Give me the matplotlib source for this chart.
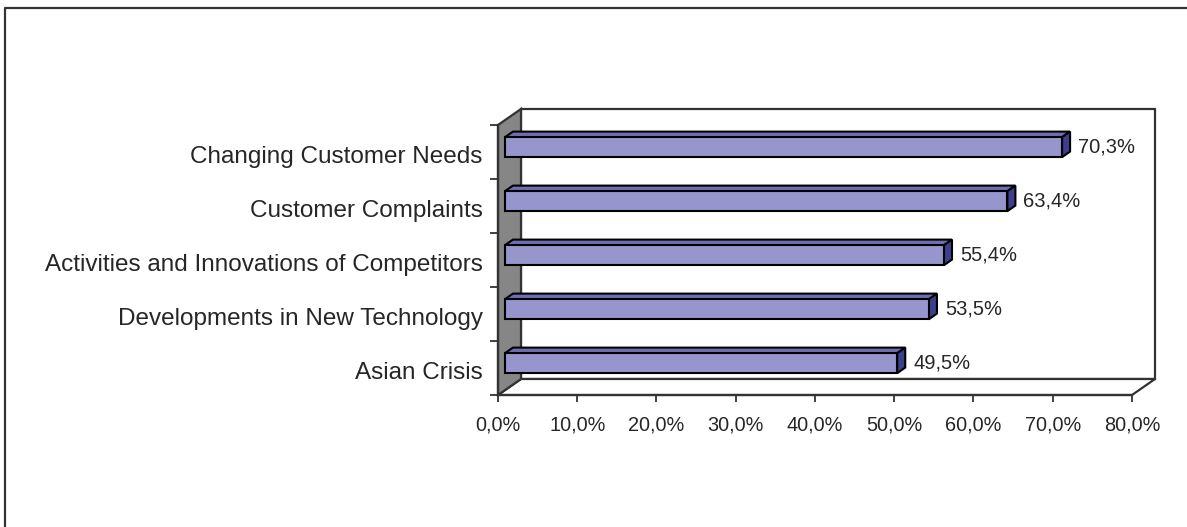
import matplotlib.pyplot as plt
from matplotlib.patches import Polygon
from matplotlib.lines import Line2D
import numpy as np

categories = ['Asian Crisis', 'Developments in New Technology',
              'Activities and Innovations of Competitors',
              'Customer Complaints', 'Changing Customer Needs']
values = [49.5, 53.5, 55.4, 63.4, 70.3]
value_labels = ['49,5%', '53,5%', '55,4%', '63,4%', '70,3%']
xticks = [0, 10, 20, 30, 40, 50, 60, 70, 80]
xtick_labels = ['0,0%', '10,0%', '20,0%', '30,0%', '40,0%', '50,0%', '60,0%', '70,0%', '80,0%']

plt.rcParams['font.family'] = ['Liberation Sans', 'DejaVu Sans']

W, H = 1187, 527
fig = plt.figure(figsize=(W / 100, H / 100), dpi=100)

# front plane of the plot area in pixels
left, right, top, bottom = 498, 1132, 125, 395
ax = fig.add_axes([left / W, (H - bottom) / H, (right - left) / W, (bottom - top) / H])
n = len(categories)
ax.set_xlim(0, 80)
ax.set_ylim(-0.5, n - 0.5)
ax.set_facecolor('none')

# depth of the 3d box, pixels -> data units
xs = (right - left) / 80
ys = (bottom - top) / n
dx, dy = 23 / xs, 16 / ys
edge = '#333333'
txt = '#262626'

# back wall, floor, side wall
back = Polygon([(dx, -0.5 + dy), (80 + dx, -0.5 + dy), (80 + dx, n - 0.5 + dy), (dx, n - 0.5 + dy)],
               closed=True, facecolor='white', edgecolor=edge, lw=1.6, clip_on=False, zorder=1)
floor = Polygon([(0, -0.5), (80, -0.5), (80 + dx, -0.5 + dy), (dx, -0.5 + dy)],
                closed=True, facecolor='white', edgecolor=edge, lw=1.6, clip_on=False, zorder=1)
wall = Polygon([(0, -0.5), (dx, -0.5 + dy), (dx, n - 0.5 + dy), (0, n - 0.5)],
               closed=True, facecolor='#868686', edgecolor=edge, lw=1.6, clip_on=False, zorder=2)
for p in (back, floor, wall):
    ax.add_patch(p)

# bars
y = np.arange(n)
f1, f2 = 0.3, 0.65
bh = 0.37
ax.barh(y + f1 * dy, values, left=f1 * dx, height=bh, color='#9696CC',
        edgecolor='black', lw=1.5, zorder=4)
for i, v in enumerate(values):
    yt = i + f1 * dy + bh / 2
    yb = i + f1 * dy - bh / 2
    ddx, ddy = (f2 - f1) * dx, (f2 - f1) * dy
    topf = Polygon([(f1 * dx, yt), (v + f1 * dx, yt), (v + f1 * dx + ddx, yt + ddy), (f1 * dx + ddx, yt + ddy)],
                   closed=True, facecolor='#6E6EB4', edgecolor='black', lw=1.5, clip_on=False, zorder=3)
    side = Polygon([(v + f1 * dx, yb), (v + f1 * dx + ddx, yb + ddy), (v + f1 * dx + ddx, yt + ddy), (v + f1 * dx, yt)],
                   closed=True, facecolor='#3E3E8E', edgecolor='black', lw=1.5, clip_on=False, zorder=3)
    ax.add_patch(topf)
    ax.add_patch(side)
    ax.text(v + f2 * dx + 1.0, i + f1 * dy, value_labels[i], ha='left', va='center',
            fontsize=14.5, color=txt, zorder=5)

# axes
for s in ('top', 'right'):
    ax.spines[s].set_visible(False)
for s in ('left', 'bottom'):
    ax.spines[s].set_color(edge)
    ax.spines[s].set_linewidth(1.6)
    ax.spines[s].set_zorder(6)

ax.set_xticks(xticks)
ax.set_xticklabels(xtick_labels, fontsize=14.3, color=txt)
ax.tick_params(axis='x', length=5, width=1.3, color=edge, pad=10)

ax.set_yticks(np.arange(n + 1) - 0.5)
ax.set_yticklabels([])
ax.tick_params(axis='y', which='major', length=6, width=1.3, color=edge)
ax.set_yticks(y - 0.05, minor=True)
ax.set_yticklabels(categories, minor=True, fontsize=17.5, color=txt)
ax.tick_params(axis='y', which='minor', length=0, pad=11)

# outer frame of the chart
yl = 1 - 8 / H
xl = 5 / W
fig.add_artist(Line2D([xl, xl, 1], [0, yl, yl], transform=fig.transFigure, color=edge, lw=1.6))

fig.savefig('out.png', dpi=100)
